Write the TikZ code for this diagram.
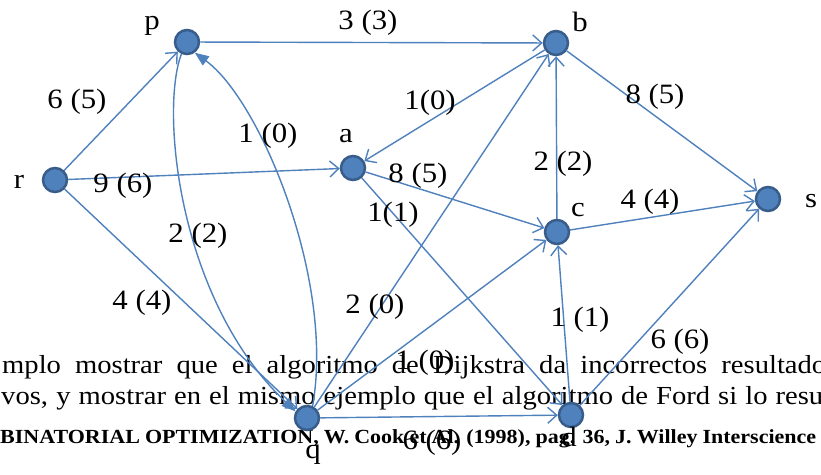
\documentclass[tikz,border=0pt]{standalone}
\usepackage{fontspec}
\setmainfont[FakeStretch=1.1]{Liberation Serif}
\usetikzlibrary{arrows.meta}
\definecolor{nodefill}{RGB}{79,129,189}
\definecolor{nodeedge}{RGB}{56,93,138}
\definecolor{edgecol}{RGB}{79,129,189}
\begin{document}
\begin{tikzpicture}[x=1pt,y=-1pt,
  vtx/.style={circle, fill=nodefill, draw=nodeedge, line width=2.5pt, minimum size=24pt, inner sep=0pt},
  lab/.style={font=\fontsize{28}{30}\selectfont, inner sep=0pt},
  arc/.style={draw=edgecol, line width=1.4pt, -{Straight Barb[length=9pt,width=16pt,line width=1.4pt]}},
  tri/.style={draw=edgecol, line width=1.4pt, -{Triangle[length=14pt,width=11pt,fill=edgecol]}},
  body/.style={font=\fontsize{26}{30}\selectfont, anchor=base west, inner sep=0pt},
  cite/.style={font=\bfseries\fontsize{20}{22}\selectfont, anchor=base west, inner sep=0pt},
]
\useasboundingbox[fill=white] (0,0) rectangle (821,474);

% background text
\node[body] (t1) at (2,373) {\makebox[824pt][s]{mplo mostrar que el algoritmo de Dijkstra da incorrectos resultado}};
\node[body] (t2) at (1,404) {\makebox[822pt][s]{vos, y mostrar en el mismo ejemplo que el algoritmo de Ford si lo resu}};
\node[cite] (t3) at (0,443) {\makebox[816pt][s]{BINATORIAL OPTIMIZATION, W. Cook et Al. (1998), pag. 36, J. Willey Interscience}};

% vertices
\node[vtx] (p) at (187,42) {};
\node[vtx] (b) at (556,43) {};
\node[vtx] (a) at (353,168) {};
\node[vtx] (r) at (55,180) {};
\node[vtx] (s) at (768,199) {};
\node[vtx] (c) at (557,232) {};
\node[vtx] (q) at (307,418) {};
\node[vtx] (d) at (571,415) {};

% vertex names
\node[lab] (np) at (152,26) {p};
\node[lab] (nb) at (580,22) {b};
\node[lab] (na) at (346,136) {a};
\node[lab] (nr) at (19,182) {r};
\node[lab] (ns) at (811,201) {s};
\node[lab] (nc) at (578,210) {c};
\node[lab] (nq) at (313,455) {q};
\node[lab] (nd) at (569,437) {d};

% arcs
\draw[arc] (r) -- (p);
\draw[arc] (p) -- (b);
\draw[arc] (r) -- (a);
\draw[arc] (r) -- (q);
\draw[tri] (p.245) .. controls (160,110) and (178,300) .. (q.150);
\draw[tri] (q.65) .. controls (335,280) and (260,100) .. (p.306);
\draw[arc] (b) -- (a);
\draw[arc] (a) -- (c);
\draw[arc] (a) -- (d);
\draw[arc] (q) -- (b);
\draw[arc] (q) -- (c);
\draw[arc] (q) -- (d);
\draw[arc] (c) -- (b);
\draw[arc] (b) -- (s);
\draw[arc] (c) -- (s);
\draw[arc] (d) -- (c);
\draw[arc] (d) -- (s);

% arc labels
\node[lab] (l-rp) at (77,102) {6 (5)};
\node[lab] (l-pb) at (368,23) {3 (3)};
\node[lab] (l-ra) at (123,186) {9 (6)};
\node[lab] (l-rq) at (142,303) {4 (4)};
\node[lab] (l-pq) at (198,236) {2 (2)};
\node[lab] (l-qp) at (268,136) {1 (0)};
\node[lab] (l-ba) at (430,103) {1(0)};
\node[lab] (l-ac) at (418,176) {8 (5)};
\node[lab] (l-ad) at (393,215) {1(1)};
\node[lab] (l-qb) at (375,307) {2 (0)};
\node[lab] (l-qc) at (425,363) {1 (0)};
\node[lab] (l-qd) at (432,443) {6 (6)};
\node[lab] (l-cb) at (563,164) {2 (2)};
\node[lab] (l-bs) at (655,97) {8 (5)};
\node[lab] (l-cs) at (650,202) {4 (4)};
\node[lab] (l-dc) at (580,320) {1 (1)};
\node[lab] (l-ds) at (680,342) {6 (6)};
\end{tikzpicture}
\end{document}
